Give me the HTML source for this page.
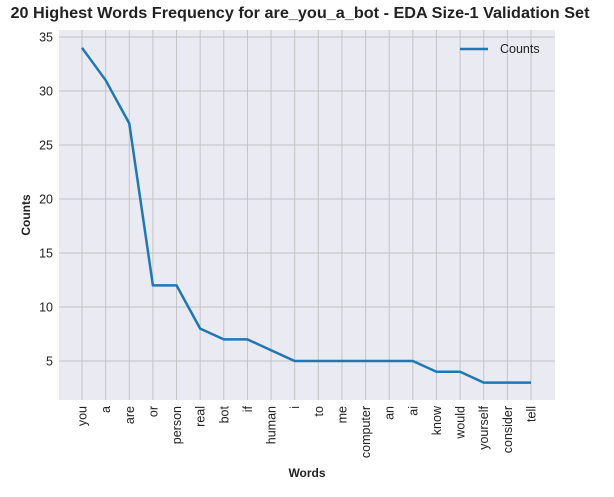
<!DOCTYPE html>
<html><head><meta charset="utf-8"><style>
body{margin:0;background:#fff;font-family:"Liberation Sans",Arial,sans-serif;}
</style></head><body>
<svg width="614" height="492" xmlns="http://www.w3.org/2000/svg" id="svg" font-family="Liberation Sans, Arial, sans-serif">
<text x="300" y="18" text-anchor="middle" font-size="15.5" font-weight="bold" fill="#222" textLength="579" lengthAdjust="spacingAndGlyphs">20 Highest Words Frequency for are_you_a_bot - EDA Size-1 Validation Set</text>
<rect x="59" y="30" width="496" height="370" fill="#eaeaf2"/>
<g id="grid"></g><g id="ticks"></g>
<text transform="translate(30,215) rotate(-90)" text-anchor="middle" font-size="12" font-weight="bold" fill="#222">Counts</text>
<text x="307" y="477" text-anchor="middle" font-size="12" font-weight="bold" fill="#222">Words</text>
<g>
<line x1="460" y1="49" x2="488" y2="49" stroke="#1f77b4" stroke-width="2.5"/>
<text x="500" y="53" font-size="12.5" fill="#222">Counts</text>
</g>
</svg>
<script>
const words=["you","a","are","or","person","real","bot","if","human","i","to","me","computer","an","ai","know","would","yourself","consider","tell"];
const counts=[34,31,27,12,12,8,7,7,6,5,5,5,5,5,5,4,4,3,3,3];
const yTicks=[5,10,15,20,25,30,35];
const NS="http://www.w3.org/2000/svg";
const svg=document.getElementById('svg'),grid=document.getElementById('grid'),tk=document.getElementById('ticks');
const X=i=>82+i*(449/(words.length-1));
const Y=v=>361-(v-5)*10.8;
function mk(t,a,p){const e=document.createElementNS(NS,t);for(const k in a)e.setAttribute(k,a[k]);p.appendChild(e);return e;}
yTicks.forEach(v=>{
 const l=mk('line',{x1:59,x2:555,y1:Y(v),y2:Y(v),stroke:'#c4c4c4','stroke-width':1},grid);
 
 
 const t=mk('text',{x:53,y:Y(v)+4.5,'text-anchor':'end','font-size':12.5,fill:'#222'},tk);t.textContent=v;
 
 
});
words.forEach((w,i)=>{
 const l=mk('line',{x1:X(i),x2:X(i),y1:30,y2:400,stroke:'#c4c4c4','stroke-width':1},grid);
 
 
 const t=mk('text',{transform:`translate(${X(i)+4.5},406) rotate(-90)`,'text-anchor':'end','font-size':12.5,fill:'#222'},tk);t.textContent=w;
 
 
});
const p=mk('polyline',{points:counts.map((c,i)=>X(i)+','+Y(c)).join(' '),fill:'none',stroke:'#1f77b4','stroke-width':2.5,'stroke-linejoin':'round'},svg);


</script>
</body></html>
